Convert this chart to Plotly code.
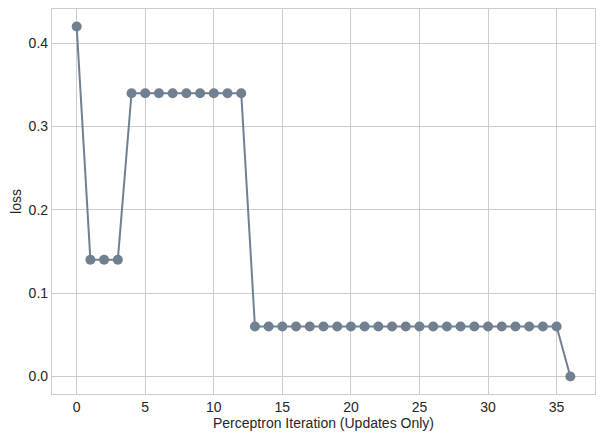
import plotly.graph_objects as go

iterations = list(range(37))
loss = [0.42, 0.14, 0.14, 0.14] + [0.34] * 9 + [0.06] * 23 + [0.0]

color = "#708090"
font = "Liberation Sans, Arial, DejaVu Sans, sans-serif"
fs = 14
# page body has an 8px default margin; compensate so plot area lands where the reference has it
off = 8

fig = go.Figure()
fig.add_trace(go.Scatter(
    x=iterations, y=loss, mode="lines+markers",
    line=dict(color=color, width=2),
    marker=dict(color=color, size=10),
    showlegend=False,
))

axis_common = dict(
    showgrid=True, gridcolor="#cccccc", gridwidth=1,
    showline=True, linecolor="#cccccc", linewidth=1.25, mirror=True,
    zeroline=False, ticks="", automargin=False,
    tickfont=dict(family=font, size=fs, color="#262626"),
)
fig.update_layout(
    width=604 - off, height=439 - off,
    margin=dict(l=52 - off, r=9, t=9 - off, b=45),
    paper_bgcolor="white", plot_bgcolor="white",
    font=dict(family=font, size=fs, color="#262626"),
    xaxis=dict(range=[-1.8, 37.8], tickvals=[0, 5, 10, 15, 20, 25, 30, 35],
               title=dict(text="Perceptron Iteration (Updates Only)", standoff=4,
                          font=dict(family=font, size=fs, color="#262626")),
               **axis_common),
    yaxis=dict(range=[-0.021, 0.441], tickvals=[0.0, 0.1, 0.2, 0.3, 0.4],
               tickformat=".1f",
               title=dict(text="loss", standoff=3,
                          font=dict(family=font, size=fs, color="#262626")),
               **axis_common),
)
fig.write_html("out.html")
